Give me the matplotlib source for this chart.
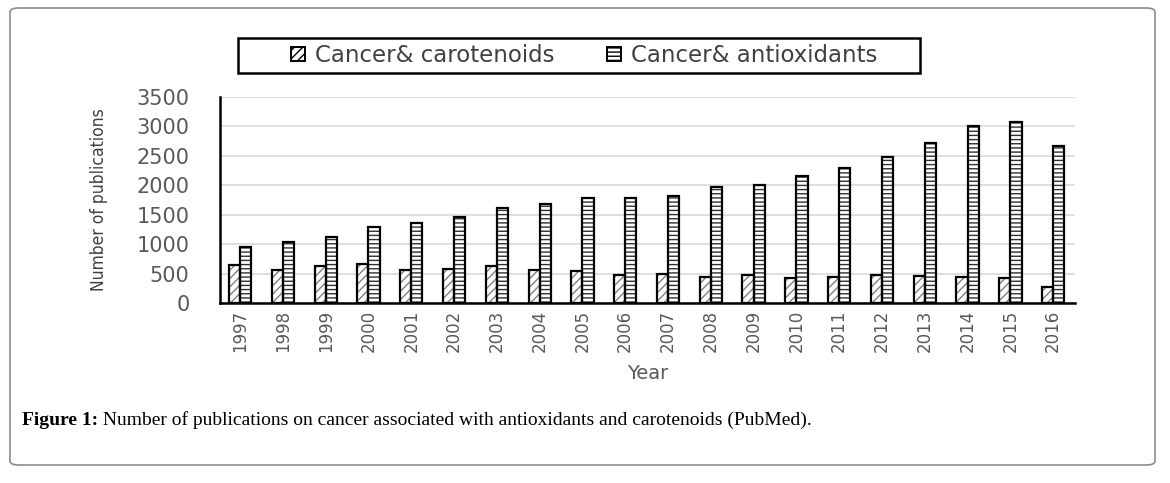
import numpy as np
import matplotlib
matplotlib.use('Agg')
import matplotlib.pyplot as plt
from matplotlib.patches import Patch, Rectangle, FancyBboxPatch

# 데이터
years = ['1997', '1998', '1999', '2000', '2001', '2002', '2003', '2004', '2005', '2006',
         '2007', '2008', '2009', '2010', '2011', '2012', '2013', '2014', '2015', '2016']
carotenoids = [645, 560, 628, 660, 560, 577, 628, 560, 545, 475,
               492, 436, 470, 424, 436, 475, 464, 436, 424, 266]
antioxidants = [950, 1035, 1120, 1290, 1358, 1460, 1610, 1680, 1780, 1777,
                1811, 1964, 2003, 2156, 2286, 2478, 2711, 3005, 3073, 2665]
y_ticks = [0, 500, 1000, 1500, 2000, 2500, 3000, 3500]
legend_labels = ['Cancer& carotenoids', 'Cancer& antioxidants']

W, H = 1170, 483
fig = plt.figure(figsize=(W / 100, H / 100), dpi=100)
ax = fig.add_axes([220 / W, 1 - 303 / H, 855 / W, 206 / H])

x = np.arange(len(years))
w = 0.26

# 해치 (회색 사선 / 가로줄) 먼저 그리고 검은 테두리를 위에 덧그림
ax.bar(x - w / 2, carotenoids, w, color='white', edgecolor='#808080', hatch='////', linewidth=0, zorder=3)
ax.bar(x + w / 2, antioxidants, w, color='white', edgecolor='#303030', hatch='----', linewidth=0, zorder=3)
ax.bar(x - w / 2, carotenoids, w, fill=False, edgecolor='black', linewidth=1.6, zorder=4)
ax.bar(x + w / 2, antioxidants, w, fill=False, edgecolor='black', linewidth=1.6, zorder=4)

ax.set_xlim(-0.47, len(years) - 1 + 0.51)
ax.set_ylim(0, 3500)
ax.set_yticks(y_ticks)
ax.set_xticks(x)
ax.set_xticklabels(years, rotation=90, fontsize=12, color='#595959')
ax.set_yticklabels([str(v) for v in y_ticks], fontsize=15, color='#595959')
ax.tick_params(axis='both', length=0)
ax.tick_params(axis='y', pad=22)
ax.tick_params(axis='x', pad=5)

ax.grid(axis='y', color='#d9d9d9', linewidth=1.2, zorder=0)
ax.set_axisbelow(True)
for s in ['top', 'right']:
    ax.spines[s].set_visible(False)
ax.spines['left'].set_linewidth(1.8)
ax.spines['bottom'].set_linewidth(1.8)

ax.set_ylabel('Number of publications', fontsize=12.5, color='#404040',
              family='DejaVu Sans', fontstretch='condensed')
ax.yaxis.set_label_coords(-0.131, 0.5)
ax.set_xlabel('Year', fontsize=14, color='#595959')
ax.xaxis.set_label_coords(0.5006, -0.295)

# 범례
handles = [Patch(facecolor='white', edgecolor='black', hatch='////', linewidth=1.4),
           Patch(facecolor='white', edgecolor='black', hatch='----', linewidth=1.4)]
leg = fig.legend(handles, legend_labels, loc='center', bbox_to_anchor=(584.5 / W, 1 - 55.5 / H),
                 ncol=2, frameon=False, fontsize=16.5, handlelength=0.6, handleheight=0.6,
                 handletextpad=0.45, columnspacing=2.3, labelcolor='#404040')
fig.add_artist(Rectangle((238 / W, 1 - 73 / H), 682 / W, 35 / H, transform=fig.transFigure,
                         fill=False, edgecolor='black', linewidth=1.8))

# 바깥 테두리 (둥근 모서리)
fig.add_artist(FancyBboxPatch((10 / W, 1 - 465 / H), 1145 / W, 457 / H, transform=fig.transFigure,
                              boxstyle='round,pad=0,rounding_size=0.008', fill=False,
                              edgecolor='#8c8c8c', linewidth=1.2))

# 캡션
t1 = fig.text(22 / W, 1 - 425 / H, 'Figure 1:', fontsize=14, fontweight='bold',
              family='Liberation Serif', va='baseline')
ax.annotate(' Number of publications on cancer associated with antioxidants and carotenoids (PubMed).',
            xy=(1, 0), xycoords=t1, fontsize=14, family='Liberation Serif', va='bottom',
            annotation_clip=False)

fig.savefig('out.png', dpi=100)
